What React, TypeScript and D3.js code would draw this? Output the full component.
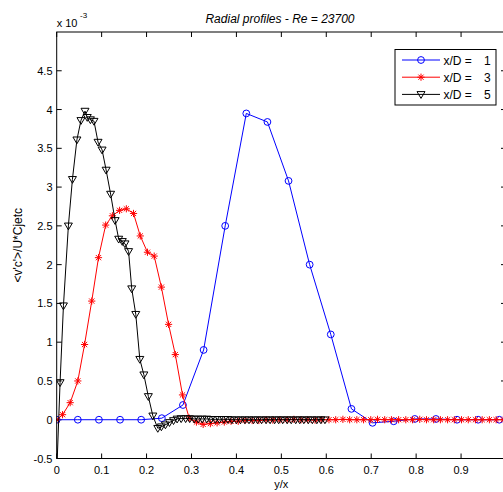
import React from "react"
import * as d3 from "d3"

// data (y values in units of 1e-3)
const profileXD1: [number, number][] = [
  [0, 0], [0.047, 0], [0.094, 0], [0.141, 0], [0.188, 0], [0.234, 0.02],
  [0.281, 0.19], [0.327, 0.9], [0.375, 2.5], [0.422, 3.95], [0.469, 3.84],
  [0.516, 3.08], [0.563, 2.0], [0.61, 1.1], [0.656, 0.14], [0.703, -0.04],
  [0.75, -0.02], [0.797, 0.01], [0.844, 0.01], [0.891, 0], [0.938, 0], [0.985, 0],
]

const profileXD3: [number, number][] = [
  [0, 0], [0.013, 0.065], [0.03, 0.22], [0.047, 0.5], [0.062, 0.97], [0.078, 1.53],
  [0.093, 2.09], [0.109, 2.51], [0.124, 2.63], [0.14, 2.7], [0.155, 2.72],
  [0.171, 2.66], [0.186, 2.37], [0.202, 2.16], [0.217, 2.11], [0.233, 1.71],
  [0.249, 1.23], [0.264, 0.84], [0.28, 0.32], [0.295, 0.02], [0.311, -0.03],
  [0.326, -0.06], [0.342, -0.05], [0.357, -0.04], [0.373, -0.03], [0.388, -0.02],
  [0.404, -0.02], [0.419, -0.01], [0.435, -0.01], [0.45, -0.01], [0.466, 0],
  [0.481, -0.005], [0.497, 0], [0.513, 0], [0.528, 0.005], [0.544, 0], [0.559, 0],
  [0.575, -0.005], [0.59, 0], [0.606, 0], [0.621, 0], [0.637, 0.005], [0.652, 0],
  [0.668, 0], [0.683, 0], [0.699, 0], [0.714, 0.005], [0.73, 0], [0.745, 0],
  [0.761, 0], [0.777, 0], [0.792, 0], [0.808, 0.005], [0.823, 0], [0.839, 0],
  [0.854, 0], [0.87, 0], [0.885, 0], [0.901, 0], [0.916, 0], [0.932, 0],
  [0.947, 0], [0.963, 0], [0.978, 0], [0.994, 0],
]

const profileXD5: [number, number][] = [
  [0, -0.7], [0.0075, 0.48], [0.015, 1.47], [0.026, 2.5], [0.035, 3.1], [0.045, 3.61],
  [0.054, 3.86], [0.063, 3.98], [0.068, 3.9], [0.075, 3.87], [0.083, 3.85],
  [0.092, 3.58], [0.101, 3.48], [0.11, 3.22], [0.12, 2.91], [0.13, 2.57],
  [0.138, 2.33], [0.146, 2.3], [0.152, 2.27], [0.16, 2.17], [0.167, 1.69],
  [0.176, 1.36], [0.185, 0.78], [0.194, 0.58], [0.204, 0.3], [0.214, 0.05],
  [0.225, -0.11], [0.233, -0.09], [0.242, -0.065], [0.251, -0.035], [0.26, -0.01],
  [0.268, 0.01], [0.277, 0.015], [0.287, 0.015], [0.296, 0.015], [0.306, 0.01],
  [0.315, 0.01], [0.324, 0.01], [0.334, 0.01], [0.343, 0.005], [0.353, 0.005],
  [0.362, 0.005], [0.372, 0.005], [0.381, 0.005], [0.39, 0], [0.4, 0], [0.409, 0],
  [0.419, 0], [0.428, 0], [0.438, 0], [0.447, 0], [0.456, 0], [0.466, 0],
  [0.475, 0], [0.485, 0], [0.494, 0], [0.503, 0], [0.513, 0], [0.522, 0],
  [0.532, 0], [0.541, 0], [0.55, 0], [0.56, 0], [0.569, 0], [0.579, 0],
  [0.588, 0], [0.597, 0],
]

const xTicks = [0, 0.1, 0.2, 0.3, 0.4, 0.5, 0.6, 0.7, 0.8, 0.9, 1]
const xTickLabels = ["0", "0.1", "0.2", "0.3", "0.4", "0.5", "0.6", "0.7", "0.8", "0.9", ""]
const yTicks = [-0.5, 0, 0.5, 1, 1.5, 2, 2.5, 3, 3.5, 4, 4.5]
const yTickLabels = ["-0.5", "0", "0.5", "1", "1.5", "2", "2.5", "3", "3.5", "4", "4.5"]
const legendLabels = ["1", "3", "5"]

const W = 503
const H = 492
const left = 56.7, right = 506, top = 32, bottom = 458.5
const font = "Arial, 'Liberation Sans', Helvetica, sans-serif"

function Marker({ kind, x, y, color }: { kind: string; x: number; y: number; color: string }) {
  if (kind === "o")
    return <circle cx={x} cy={y} r={3.4} fill="none" stroke={color} strokeWidth={1} />
  if (kind === "*")
    return (
      <path
        transform={`translate(${x},${y})`}
        d="M-3.6,0H3.6M0,-3.6V3.6M-2.6,-2.6L2.6,2.6M-2.6,2.6L2.6,-2.6"
        stroke={color}
        strokeWidth={1}
        fill="none"
      />
    )
  return (
    <path
      transform={`translate(${x},${y})`}
      d="M-4,-2.8L4,-2.8L0,4Z"
      stroke={color}
      strokeWidth={1}
      fill="none"
    />
  )
}

export default function App() {
  const x = d3.scaleLinear().domain([0, 1]).range([left, right])
  const y = d3.scaleLinear().domain([-0.5, 5]).range([bottom, top])

  const line = d3.line<[number, number]>()
    .x(d => x(d[0]))
    .y(d => y(d[1]))

  const series = [
    { data: profileXD1, color: "#0000ff", kind: "o" },
    { data: profileXD3, color: "#ff0000", kind: "*" },
    { data: profileXD5, color: "#000000", kind: "v" },
  ]

  const tl = 5

  return (
    <svg width={W} height={H} style={{ position: "absolute", left: 0, top: 0, background: "#fff" }} fontFamily={font}>
      <defs>
        <clipPath id="plotclip">
          <rect x={left} y={top} width={right - left} height={bottom - top} />
        </clipPath>
      </defs>
      <rect x={0} y={0} width={W} height={H} fill="#fff" />

      {/* ticks, MATLAB style: inward on all four sides */}
      <g stroke="#000" strokeWidth={1}>
        {xTicks.map(t => (
          <g key={"xt" + t}>
            <line x1={x(t)} x2={x(t)} y1={bottom} y2={bottom - tl} />
            <line x1={x(t)} x2={x(t)} y1={top} y2={top + tl} />
          </g>
        ))}
        {yTicks.map(t => (
          <g key={"yt" + t}>
            <line x1={left} x2={left + tl} y1={y(t)} y2={y(t)} />
            <line x1={right} x2={right - tl} y1={y(t)} y2={y(t)} />
          </g>
        ))}
      </g>

      <g clipPath="url(#plotclip)">
        {series.map((s, i) => (
          <g key={i}>
            <path d={line(s.data) || ""} fill="none" stroke={s.color} strokeWidth={1} />
            {s.data.map((d, j) => (
              <Marker key={j} kind={s.kind} x={x(d[0])} y={y(d[1])} color={s.color} />
            ))}
          </g>
        ))}
      </g>

      <rect x={left} y={top} width={right - left} height={bottom - top} fill="none" stroke="#000" strokeWidth={1} />

      <g fontSize={11} fill="#000">
        {xTicks.map((t, i) => (
          <text key={"xl" + t} x={x(t)} y={473.5} textAnchor="middle">{xTickLabels[i]}</text>
        ))}
        {yTicks.map((t, i) => (
          <text key={"yl" + t} x={52.5} y={y(t) + 4} textAnchor="end">{yTickLabels[i]}</text>
        ))}
      </g>

      <text x={(left + right) / 2} y={488} textAnchor="middle" fontSize={11}>y/x</text>
      <text
        transform={`translate(22,${(top + bottom) / 2}) rotate(-90)`}
        textAnchor="middle"
        fontSize={12}
      >
        {"<v'c'>/U*Cjetc"}
      </text>

      <text x={left} y={27} fontSize={11}>x 10</text>
      <text x={80} y={18} fontSize={8}>-3</text>

      <text x={280} y={23} textAnchor="middle" fontSize={12} fontStyle="italic">
        Radial profiles - Re = 23700
      </text>

      {/* legend */}
      <g>
        <rect x={395} y={49.5} width={101} height={55.5} fill="#fff" stroke="#000" strokeWidth={1} />
        {series.map((s, i) => {
          const ly = 60 + i * 17.2
          return (
            <g key={"lg" + i}>
              <line x1={402} x2={440} y1={ly} y2={ly} stroke={s.color} strokeWidth={1} />
              <Marker kind={s.kind} x={421} y={ly} color={s.color} />
              <text x={443.5} y={ly + 4.5} fontSize={12}>x/D =</text>
              <text x={484} y={ly + 4.5} fontSize={12}>{legendLabels[i]}</text>
            </g>
          )
        })}
      </g>
    </svg>
  )
}
